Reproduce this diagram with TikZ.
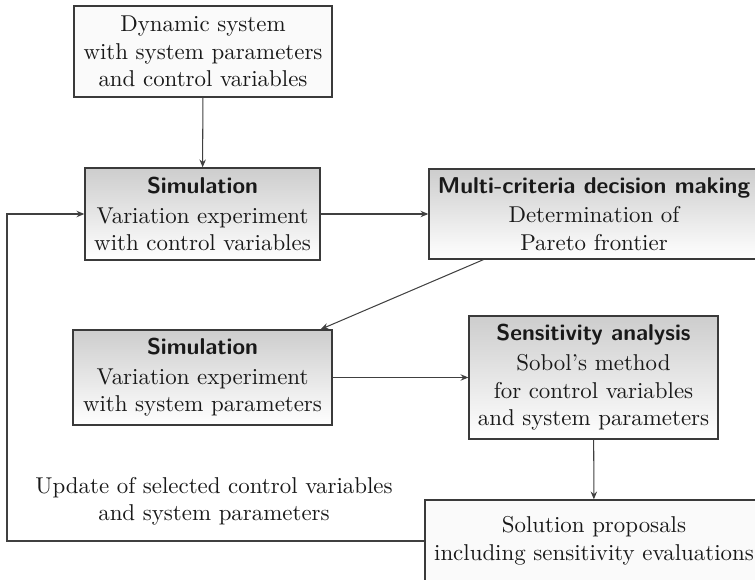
\documentclass[tikz,border=0pt]{standalone}
\usetikzlibrary{arrows.meta,calc}
\definecolor{edgegray}{HTML}{3A3A3A}
\definecolor{linegray}{HTML}{404040}
\definecolor{plainfill}{HTML}{FAFAFA}
\definecolor{shadetop}{HTML}{CDCDCD}
\tikzset{
  basebox/.style={draw=edgegray, line width=0.6pt, rectangle, inner sep=0pt, align=center, text=black!90},
  plainbox/.style={basebox, fill=plainfill},
  shadebox/.style={basebox, top color=shadetop, bottom color=white},
  conn/.style={draw=linegray, line width=0.45pt, -{Stealth[length=3.4pt,width=2.8pt]}},
  loopline/.style={draw=linegray, line width=0.6pt, -{Stealth[length=3.4pt,width=2.8pt]}},
  hdr/.style={}
}
\newcommand{\hd}[1]{{\sffamily\bfseries #1}\\[1pt]}
\begin{document}
\begin{tikzpicture}[x=0.4367pt, y=-0.4367pt]
\useasboundingbox (0,0) rectangle (755,580);

\node[plainbox, minimum width=112.7pt, minimum height=39.7pt] (sys) at (203,51.5)
  {Dynamic system\\with system parameters\\and control variables};

\node[shadebox, minimum width=102.6pt, minimum height=40.2pt] (sim1) at (202.5,214)
  {\hd{Simulation}Variation experiment\\with control variables};

\node[shadebox, minimum width=144.1pt, minimum height=39.3pt] (mcdm) at (594,214)
  {\hd{Multi-criteria decision making}Determination of\\Pareto frontier};

\node[shadebox, minimum width=113.1pt, minimum height=41.5pt] (sim2) at (202.5,377.5)
  {\hd{Simulation}Variation experiment\\with system parameters};

\node[shadebox, minimum width=108.7pt, minimum height=53.7pt] (sens) at (593.5,377.5)
  {\hd{Sensitivity analysis}Sobol's method\\for control variables\\and system parameters};

\node[plainbox, minimum width=147.6pt, minimum height=35.8pt] (sol) at (594,541)
  {Solution proposals\\including sensitivity evaluations};

\node[align=center, inner sep=0pt, text=black!90] (upd) at (214,501.5)
  {Update of selected control variables\\and system parameters};

\coordinate (loopx) at (7,0);

\draw[conn] (sys) -- (sim1);
\draw[conn] (sim1) -- (mcdm);
\draw[conn] ($(mcdm.south west)+(55,0)$) -- ($(sim2.north east)+(-12,0)$);
\draw[conn] (sim2) -- (sens);
\draw[conn] (sens) -- (sol);
\draw[loopline] (sol.west) -- (sol.west -| loopx) |- (sim1.west);
\end{tikzpicture}
\end{document}
